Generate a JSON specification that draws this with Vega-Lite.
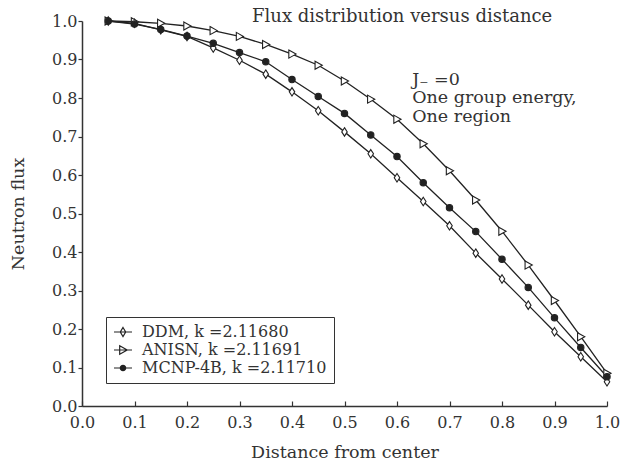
{
  "$schema": "https://vega.github.io/schema/vega-lite/v6.json",
  "autosize": "none",
  "width": 525,
  "height": 385,
  "padding": {"left": 82, "top": 21, "right": 16, "bottom": 57},
  "background": "white",
  "config": {
    "view": {"stroke": null},
    "font": "DejaVu Serif",
    "axis": {
      "grid": false,
      "domainColor": "#333",
      "domainWidth": 1.5,
      "tickColor": "#333",
      "tickWidth": 1.2,
      "labelFont": "DejaVu Serif",
      "labelFontSize": 16,
      "labelColor": "#333",
      "labelOverlap": false,
      "labelFlush": false,
      "titleFont": "DejaVu Serif",
      "titleFontSize": 17.5,
      "titleFontWeight": "normal",
      "titleColor": "#333"
    }
  },
  "datasets": {
    "flux": [
      {"d": 0.05, "DDM": 1.000, "ANISN": 1.000, "MCNP-4B": 1.000},
      {"d": 0.10, "DDM": 0.994, "ANISN": 0.998, "MCNP-4B": 0.992},
      {"d": 0.15, "DDM": 0.977, "ANISN": 0.994, "MCNP-4B": 0.978},
      {"d": 0.20, "DDM": 0.960, "ANISN": 0.987, "MCNP-4B": 0.961},
      {"d": 0.25, "DDM": 0.930, "ANISN": 0.975, "MCNP-4B": 0.942},
      {"d": 0.30, "DDM": 0.898, "ANISN": 0.960, "MCNP-4B": 0.918},
      {"d": 0.35, "DDM": 0.862, "ANISN": 0.939, "MCNP-4B": 0.894},
      {"d": 0.40, "DDM": 0.816, "ANISN": 0.914, "MCNP-4B": 0.848},
      {"d": 0.45, "DDM": 0.767, "ANISN": 0.885, "MCNP-4B": 0.804},
      {"d": 0.50, "DDM": 0.712, "ANISN": 0.844, "MCNP-4B": 0.760},
      {"d": 0.55, "DDM": 0.655, "ANISN": 0.797, "MCNP-4B": 0.704},
      {"d": 0.60, "DDM": 0.593, "ANISN": 0.745, "MCNP-4B": 0.648},
      {"d": 0.65, "DDM": 0.531, "ANISN": 0.681, "MCNP-4B": 0.580},
      {"d": 0.70, "DDM": 0.468, "ANISN": 0.611, "MCNP-4B": 0.515},
      {"d": 0.75, "DDM": 0.397, "ANISN": 0.535, "MCNP-4B": 0.453},
      {"d": 0.80, "DDM": 0.330, "ANISN": 0.454, "MCNP-4B": 0.381},
      {"d": 0.85, "DDM": 0.262, "ANISN": 0.366, "MCNP-4B": 0.308},
      {"d": 0.90, "DDM": 0.193, "ANISN": 0.274, "MCNP-4B": 0.229},
      {"d": 0.95, "DDM": 0.128, "ANISN": 0.180, "MCNP-4B": 0.152},
      {"d": 1.00, "DDM": 0.063, "ANISN": 0.085, "MCNP-4B": 0.076}
    ],
    "notes": [
      {"d": 0.324, "flux": 1.0, "label": "Flux distribution versus distance", "kind": "title"},
      {"d": 0.629, "flux": 0.834, "label": "J₋ =0|One group energy,|One region", "kind": "note"}
    ]
  },
  "encoding": {
    "x": {
      "field": "d", "type": "quantitative",
      "scale": {"domain": [0, 1], "nice": false, "zero": false},
      "axis": {
        "title": "Distance from center",
        "values": [0, 0.1, 0.2, 0.3, 0.4, 0.5, 0.6, 0.7, 0.8, 0.9, 1.0],
        "format": ".1f",
        "tickSize": -5,
        "labelPadding": 13,
        "titlePadding": 13
      }
    },
    "y": {
      "field": "flux", "type": "quantitative",
      "scale": {"domain": [0, 1], "nice": false},
      "axis": {
        "title": "Neutron flux",
        "values": [0, 0.1, 0.2, 0.3, 0.4, 0.5, 0.6, 0.7, 0.8, 0.9, 1.0],
        "format": ".1f",
        "tickSize": 4,
        "labelPadding": 1,
        "titlePadding": 24
      }
    }
  },
  "layer": [
    {
      "data": {"name": "flux"},
      "transform": [{"fold": ["DDM", "ANISN", "MCNP-4B"], "as": ["series", "flux"]}],
      "mark": {"type": "line", "stroke": "#222", "strokeWidth": 1.3},
      "encoding": {
        "detail": {"field": "series"}
      }
    },
    {
      "data": {"name": "flux"},
      "transform": [{"fold": ["DDM", "ANISN", "MCNP-4B"], "as": ["series", "flux"]}],
      "mark": {"type": "point", "filled": true, "stroke": "#222", "strokeWidth": 1.1, "opacity": 1},
      "encoding": {
        "size": {"value": 72},
        "shape": {
          "field": "series",
          "scale": {
            "domain": ["ANISN", "DDM", "MCNP-4B"],
            "range": [
              "M-0.75,-0.95L0.95,0L-0.75,0.95Z",
              "M0,-1L0.65,0L0,1L-0.65,0Z",
              "M0.75,0A0.75,0.75,0,1,1,-0.75,0A0.75,0.75,0,1,1,0.75,0Z"
            ]
          },
          "legend": null
        },
        "fill": {
          "field": "series",
          "scale": {"domain": ["DDM", "ANISN", "MCNP-4B"], "range": ["white", "white", "#222"]},
          "legend": {
            "title": null,
            "orient": "none",
            "legendX": 24,
            "legendY": 296,
            "direction": "vertical",
            "padding": 7,
            "strokeColor": "#333",
            "fillColor": "white",
            "labelFont": "DejaVu Serif",
            "labelFontSize": 16,
            "labelColor": "#333",
            "labelLimit": 400,
            "labelOffset": 11,
            "rowPadding": 2,
            "symbolSize": 144,
            "symbolOffset": 2,
            "symbolStrokeWidth": 1.2,
            "symbolStrokeColor": "#222",
            "symbolType": {"expr": "datum.value === 'DDM' ? 'M-1.5,0L1.5,0M0,-0.75L0.45,0L0,0.75L-0.45,0Z' : datum.value === 'ANISN' ? 'M-1.5,0L1.5,0M-0.55,-0.7L0.7,0L-0.55,0.7Z' : 'M-1.5,0L1.5,0M0.45,0A0.45,0.45,0,1,1,-0.45,0A0.45,0.45,0,1,1,0.45,0Z'"},
            "labelExpr": "datum.label === 'DDM' ? 'DDM, k =2.11680' : datum.label === 'ANISN' ? 'ANISN, k =2.11691' : 'MCNP-4B, k =2.11710'"
          }
        }
      }
    },
    {
      "data": {"name": "notes"},
      "transform": [{"filter": "datum.kind === 'title'"}],
      "mark": {"type": "text", "align": "left", "baseline": "alphabetic", "font": "DejaVu Serif", "fontSize": 18, "color": "#333", "dy": 1},
      "encoding": {
        "text": {"field": "label"}
      }
    },
    {
      "data": {"name": "notes"},
      "transform": [{"filter": "datum.kind === 'note'"}],
      "mark": {"type": "text", "align": "left", "baseline": "alphabetic", "font": "DejaVu Serif", "fontSize": 17.5, "color": "#333", "lineBreak": "|", "lineHeight": 18.5},
      "encoding": {
        "text": {"field": "label"}
      }
    }
  ]
}
